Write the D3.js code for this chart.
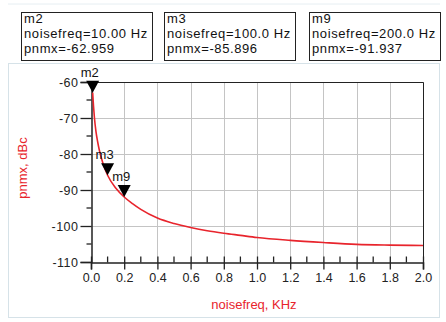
<!DOCTYPE html>
<html>
<head>
<meta charset="utf-8">
<script src="https://cdn.jsdelivr.net/npm/d3@7"></script>
<style>
  body { margin: 0; background: #fff; }
  svg { display: block; font-family: "Liberation Sans", Arial, sans-serif; }
</style>
</head>
<body>
<div id="chart"></div>
<script>
// noise frequency (KHz) and phase noise pnmx (dBc)
const noiseFreq = [0.01, 0.015, 0.02, 0.03, 0.04, 0.05, 0.07, 0.1, 0.15, 0.2, 0.25, 0.3, 0.4, 0.5,
                   0.6, 0.7, 0.8, 0.9, 1.0, 1.2, 1.4, 1.6, 1.8, 2.0];
const pnmx = [-62.959, -66.6, -69.6, -73.8, -76.6, -78.9, -82.3, -85.896, -89.5, -91.937, -93.8, -95.4,
              -97.8, -99.3, -100.4, -101.3, -102.0, -102.6, -103.2, -104.0, -104.6, -105.1, -105.3, -105.4];

const markerNames = ["m2", "m3", "m9"];
const markerFreqHz = ["10.00", "100.0", "200.0"];
const markerFreq = [0.01, 0.1, 0.2];
const markerValue = [-62.959, -85.896, -91.937];

const xTicks = [0.0, 0.2, 0.4, 0.6, 0.8, 1.0, 1.2, 1.4, 1.6, 1.8, 2.0];
const yTicks = [-60, -70, -80, -90, -100, -110];

const W = 446, H = 322;
const red = "#e8242c";

const svg = d3.select("#chart").append("svg")
    .attr("width", W)
    .attr("height", H);

const x = d3.scaleLinear().domain([0, 2]).range([91, 423]);
const y = d3.scaleLinear().domain([-110, -60]).range([262, 82]);

// faint outer panel
svg.append("line")
    .attr("x1", 8).attr("x2", 440).attr("y1", 4).attr("y2", 4)
    .attr("stroke", "#e6eef2");
svg.append("rect")
    .attr("x", 8.5).attr("y", 63.5).attr("width", 431).attr("height", 254)
    .attr("fill", "#fff")
    .attr("stroke", "#d6e2e8");

// marker readout boxes
const boxX = [21, 164, 309];
const boxes = svg.append("g").selectAll("g")
    .data(markerNames)
    .join("g")
    .attr("transform", (d, i) => `translate(${boxX[i]},12)`);

boxes.append("rect")
    .attr("x", 0.5).attr("y", 0.5)
    .attr("width", 131).attr("height", 48)
    .attr("fill", "#fff")
    .attr("stroke", "#222");

boxes.append("text")
    .attr("font-size", 13)
    .attr("letter-spacing", 0.6)
    .attr("fill", "#111")
    .selectAll("tspan")
    .data((d, i) => [d, `noisefreq=${markerFreqHz[i]} Hz`, `pnmx=${markerValue[i].toFixed(3)}`])
    .join("tspan")
    .attr("x", 3)
    .attr("y", (d, j) => 11 + j * 15)
    .text(d => d);

// grid
const grid = svg.append("g").attr("stroke", "#c4c4c4").attr("stroke-width", 1);
grid.selectAll("line.v")
    .data(xTicks.slice(1))
    .join("line")
    .attr("class", "v")
    .attr("x1", d => Math.round(x(d)) + 0.5).attr("x2", d => Math.round(x(d)) + 0.5)
    .attr("y1", y(-60)).attr("y2", y(-110));
grid.selectAll("line.h")
    .data(yTicks.slice(1, -1))
    .join("line")
    .attr("class", "h")
    .attr("x1", x(0)).attr("x2", x(2))
    .attr("y1", d => Math.round(y(d)) + 0.5).attr("y2", d => Math.round(y(d)) + 0.5);

// frame top / right
svg.append("path")
    .attr("d", `M${x(0)},${y(-60) + 0.5}H${x(2) + 0.5}V${y(-110)}`)
    .attr("fill", "none")
    .attr("stroke", "#222");

// y axis
const yAxis = svg.append("g")
    .attr("transform", `translate(${x(0) + 0.5},0)`)
    .call(d3.axisLeft(y).tickValues(yTicks).tickSize(11).tickPadding(2).tickFormat(d => String(d)));
yAxis.select(".domain").attr("stroke", "#222").attr("stroke-width", 1.5);
yAxis.selectAll(".tick line").attr("stroke", "#222").attr("stroke-width", 1.3);
yAxis.selectAll(".tick text").attr("font-size", 12.5).attr("letter-spacing", 0.5).attr("fill", "#222").attr("font-family", null);
yAxis.selectAll("line.minor")
    .data(d3.range(-105, -60, 10))
    .join("line")
    .attr("class", "minor")
    .attr("x1", -5).attr("x2", 0)
    .attr("y1", d => y(d)).attr("y2", d => y(d))
    .attr("stroke", "#222").attr("stroke-width", 1.3);

// x axis
const xAxis = svg.append("g")
    .attr("transform", `translate(0,${y(-110) + 0.5})`)
    .call(d3.axisBottom(x).tickValues(xTicks).tickSize(7).tickPadding(4).tickFormat(d3.format(".1f")));
xAxis.select(".domain").attr("stroke", "#222").attr("stroke-width", 1.5);
xAxis.selectAll(".tick line").attr("stroke", "#222").attr("stroke-width", 1.3).attr("y1", -6);
xAxis.selectAll(".tick text").attr("font-size", 12.5).attr("fill", "#222").attr("font-family", null);
xAxis.selectAll("line.minor")
    .data(d3.range(0.1, 2, 0.2))
    .join("line")
    .attr("class", "minor")
    .attr("x1", d => x(d)).attr("x2", d => x(d))
    .attr("y1", -6).attr("y2", 0)
    .attr("stroke", "#222").attr("stroke-width", 1.3);

// curve
const line = d3.line()
    .x((d, i) => x(noiseFreq[i]))
    .y(d => y(d))
    .curve(d3.curveMonotoneX);
svg.append("path")
    .datum(pnmx)
    .attr("d", line)
    .attr("fill", "none")
    .attr("stroke", red)
    .attr("stroke-width", 1.6);

// markers
const marks = svg.append("g").selectAll("g")
    .data(markerNames)
    .join("g")
    .attr("transform", (d, i) => `translate(${x(markerFreq[i])},${y(markerValue[i])})`);
marks.append("path")
    .attr("d", "M-6.5,-12H6.5L0,0Z")
    .attr("fill", "#000");
marks.append("text")
    .attr("x", -12)
    .attr("y", -16)
    .attr("font-size", 13)
    .attr("fill", "#111")
    .text(d => d);

// axis titles
svg.append("text")
    .attr("x", 254).attr("y", 309)
    .attr("text-anchor", "middle")
    .attr("font-size", 13)
    .attr("fill", red)
    .text("noisefreq, KHz");
svg.append("text")
    .attr("transform", "translate(27,168) rotate(-90)")
    .attr("text-anchor", "middle")
    .attr("font-size", 13)
    .attr("fill", red)
    .text("pnmx, dBc");
</script>
</body>
</html>
